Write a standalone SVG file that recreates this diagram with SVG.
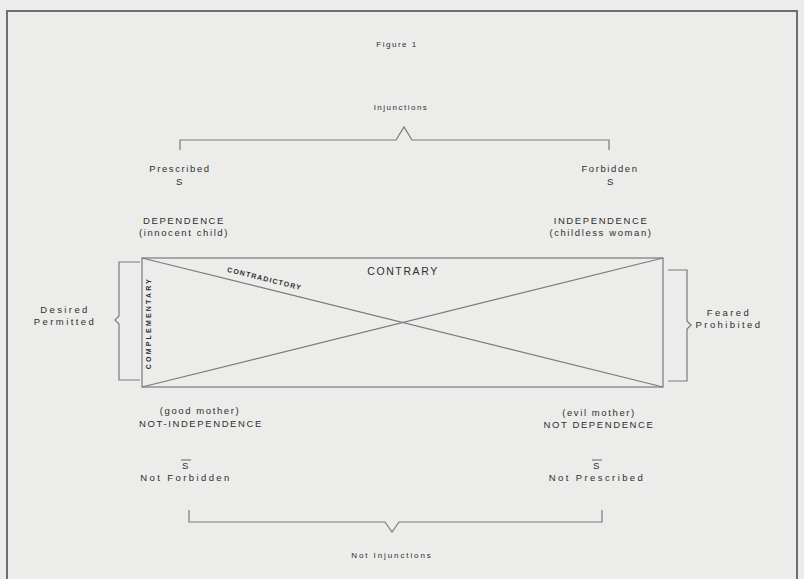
<svg xmlns="http://www.w3.org/2000/svg" width="804" height="579" viewBox="0 0 804 579">
<style>
  text { font-family: "Liberation Sans", Arial, sans-serif; font-size: 9.5px; fill: #2e2e2e; letter-spacing: 1.6px; text-anchor: middle; }
  .ln { stroke: #7a7a7a; stroke-width: 1.2; fill: none; }
  .big { font-size: 10.5px; letter-spacing: 1.6px; }
  .small { font-size: 7px; letter-spacing: 1.2px; font-weight: bold; }
  .wide { letter-spacing: 2.4px; }
  .tiny { font-size: 8px; letter-spacing: 1.5px; }
</style>
<rect x="0" y="0" width="804" height="579" fill="#ececea"/>
<rect x="7" y="11" width="790" height="572" fill="none" stroke="#6e6e6e" stroke-width="2"/>

<g id="title"><text class="tiny" x="397" y="47">Figure 1</text></g>
<g id="injunctions"><text class="tiny" x="401" y="110">Injunctions</text></g>

<g id="prescribed"><text x="180" y="172">Prescribed</text><text x="180" y="185">S</text></g>
<g id="forbidden"><text x="610" y="172">Forbidden</text><text x="611" y="185">S</text></g>

<g id="dependence"><text x="184" y="224">DEPENDENCE</text><text x="184" y="236">(innocent child)</text></g>
<g id="independence"><text x="601" y="224">INDEPENDENCE</text><text x="601" y="236">(childless woman)</text></g>

<g id="desired"><text class="wide" x="65" y="313">Desired</text><text class="wide" x="65" y="325">Permitted</text></g>
<g id="feared"><text class="wide" x="729" y="316">Feared</text><text class="wide" x="729" y="328">Prohibited</text></g>

<g id="good-mother"><text x="200" y="414">(good mother)</text><text x="201" y="427">NOT-INDEPENDENCE</text></g>
<g id="evil-mother"><text x="599" y="416">(evil mother)</text><text x="599" y="428">NOT DEPENDENCE</text></g>

<g id="not-forbidden"><text x="186" y="469">S</text><line class="ln" x1="181" y1="460" x2="191" y2="460" stroke-width="0.9"/><text class="wide" x="186" y="481">Not Forbidden</text></g>
<g id="not-prescribed"><text x="597" y="469">S</text><line class="ln" x1="592" y1="460" x2="602" y2="460" stroke-width="0.9"/><text class="wide" x="597" y="481">Not Prescribed</text></g>

<g id="not-injunctions"><text class="tiny" x="392" y="558" style="letter-spacing:1.9px">Not Injunctions</text></g>

<g id="square">
  <rect class="ln" x="142" y="258" width="521" height="129"/>
  <text class="big" x="403" y="275">CONTRARY</text>
  <text class="small" transform="translate(264,281) rotate(14)">CONTRADICTORY</text>
  <text class="small" transform="translate(151,323) rotate(-90)" style="letter-spacing:2.2px">COMPLEMENTARY</text>
</g>

<g id="connectors">
  <line class="ln" x1="142" y1="258" x2="663" y2="387"/>
  <line class="ln" x1="142" y1="387" x2="663" y2="258"/>
  <polyline class="ln" points="180,150 180,140 396,140 404,127 412,140 609,140 609,150"/>
  <polyline class="ln" points="189,510 189,522 385,522 392,532 399,522 602,522 602,510"/>
  <polyline class="ln" points="140,262 119,262 119,316 115,320 119,324 119,380 140,380"/>
  <polyline class="ln" points="668,270 687,270 687,321 691,325 687,329 687,381 668,381"/>
</g>
</svg>
